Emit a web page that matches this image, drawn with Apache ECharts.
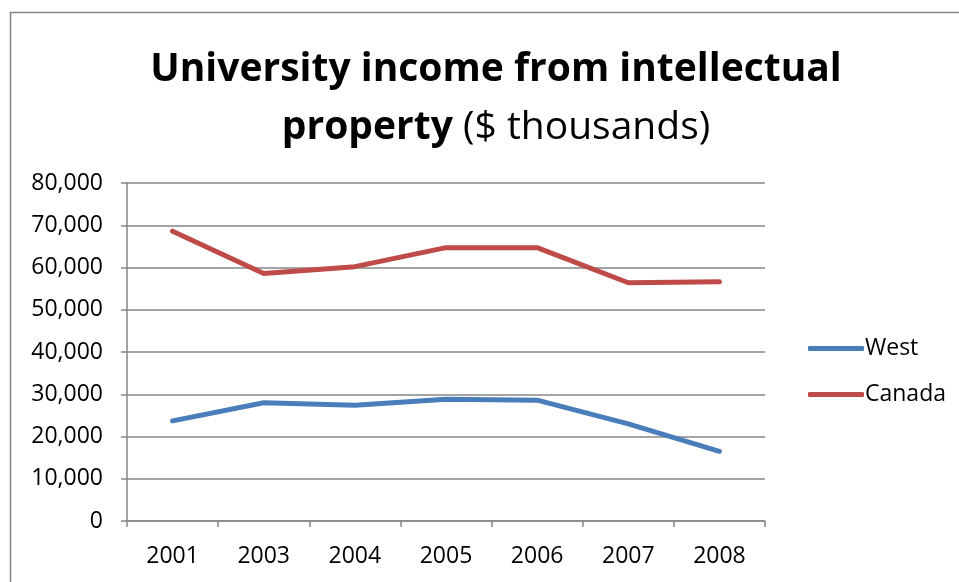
<!DOCTYPE html>
<html>
<head>
<meta charset="utf-8">
<script src="https://cdn.jsdelivr.net/npm/echarts@6/dist/echarts.min.js"></script>
<style>
  html, body { margin: 0; padding: 0; background: #fff; }
  #chart { width: 959px; height: 582px; }
</style>
</head>
<body>
<div id="chart"></div>
<script>
// Income from intellectual property, $ thousands
const years = ['2001', '2003', '2004', '2005', '2006', '2007', '2008'];
const west = [23700, 28000, 27400, 28800, 28600, 23000, 16500];
const canada = [68600, 58600, 60200, 64700, 64700, 56400, 56600];
const yTicks = { min: 0, max: 80000, step: 10000 };

const FONT = '"Open Sans", "Noto Sans", sans-serif';
const GREY = '#868686';

const chart = echarts.init(document.getElementById('chart'), null, { renderer: 'canvas' });

chart.setOption({
  backgroundColor: '#fff',
  animation: false,
  title: {
    text: '{b|University income from intellectual}\n{b|property}{n| ($ thousands)}',
    left: 491,
    textAlign: 'center',
    top: 36,
    textStyle: {
      rich: {
        b: { fontFamily: FONT, fontWeight: 'bold', fontSize: 39, color: '#000', lineHeight: 58 },
        n: { fontFamily: FONT, fontWeight: 'normal', fontSize: 39, color: '#000', lineHeight: 58 }
      }
    }
  },
  graphic: [{
    type: 'rect',
    shape: { x: 10.5, y: 12.5, width: 1000, height: 700 },
    style: { fill: 'none', stroke: GREY, lineWidth: 1.5 },
    silent: true
  }],
  legend: {
    orient: 'vertical',
    left: 803,
    top: 332,
    itemGap: 23,
    itemWidth: 56,
    itemHeight: 5,
    icon: 'roundRect',
    textStyle: { fontFamily: FONT, fontSize: 23, color: '#000', padding: [0, 0, 0, -4] },
    data: ['West', 'Canada']
  },
  grid: { left: 127, right: 194, top: 183, bottom: 61, containLabel: false },
  xAxis: {
    type: 'category',
    data: years,
    boundaryGap: true,
    axisLine: { lineStyle: { color: GREY, width: 1.5 } },
    axisTick: { show: true, length: 6, inside: false, alignWithLabel: false, lineStyle: { color: GREY, width: 1.5 } },
    axisLabel: { fontFamily: FONT, fontSize: 23, color: '#000', margin: 24 },
    splitLine: { show: false }
  },
  yAxis: {
    type: 'value',
    min: yTicks.min,
    max: yTicks.max,
    interval: yTicks.step,
    axisLine: { show: true, lineStyle: { color: GREY, width: 1.5 } },
    axisTick: { show: true, length: 6, lineStyle: { color: GREY, width: 1.5 } },
    axisLabel: {
      fontFamily: FONT, fontSize: 23, color: '#000', margin: 24,
      formatter: v => v.toLocaleString('en-US')
    },
    splitLine: { lineStyle: { color: GREY, width: 1.5 } }
  },
  series: [
    {
      name: 'West', type: 'line', data: west,
      symbol: 'none',
      lineStyle: { color: '#4A7EBB', width: 5, cap: 'round', join: 'round' },
      itemStyle: { color: '#4A7EBB' }
    },
    {
      name: 'Canada', type: 'line', data: canada,
      symbol: 'none',
      lineStyle: { color: '#BE4B48', width: 5, cap: 'round', join: 'round' },
      itemStyle: { color: '#BE4B48' }
    }
  ]
});
</script>
</body>
</html>
